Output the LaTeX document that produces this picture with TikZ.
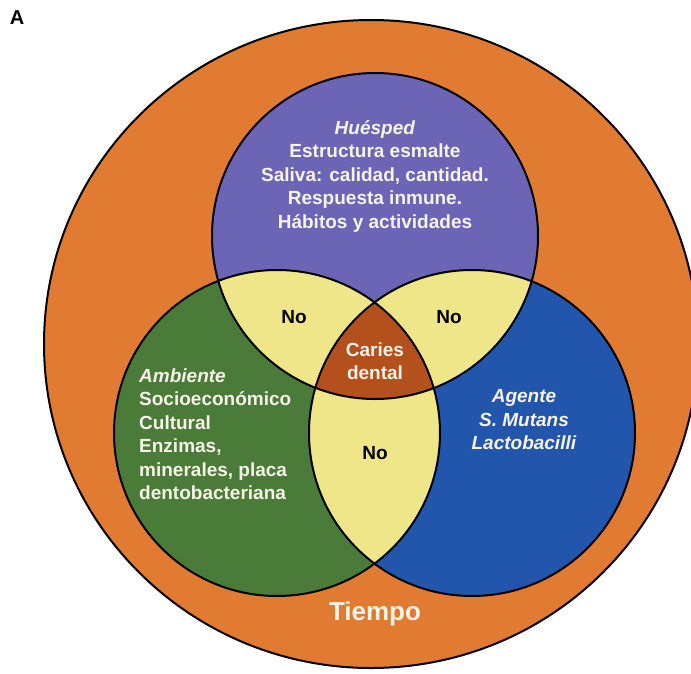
\documentclass[tikz,border=0pt]{standalone}
\usepackage{fontspec}
\setmainfont{Liberation Sans}
\definecolor{orangeC}{HTML}{E27B32}
\definecolor{purpleC}{HTML}{6C65B6}
\definecolor{greenC}{HTML}{4B7B38}
\definecolor{blueC}{HTML}{2256AC}
\definecolor{yellowC}{HTML}{EFE68A}
\definecolor{cariesC}{HTML}{B4501C}
\definecolor{txtC}{HTML}{F6F3E8}
\begin{document}
\begin{tikzpicture}[x=1pt,y=-1pt,
  border/.style={draw=black,line width=2pt},
  wtxt/.style={text=txtC,font=\fontsize{19}{23.5}\selectfont\bfseries,inner sep=0pt},
  btxt/.style={text=black,font=\fontsize{19}{23.5}\selectfont\bfseries,inner sep=0pt}]
\useasboundingbox (0,0) rectangle (691,673);
\fill[white] (0,0) rectangle (691,673);
% outer circle (Tiempo)
\path[fill=orangeC,border] (371,344) ellipse [x radius=327pt, y radius=324pt];
% three circles
\def\ctop{(375,236) circle [radius=163pt]}
\def\cleft{(277,433) circle [radius=163pt]}
\def\cright{(472,433) circle [radius=163pt]}
\fill[purpleC] \ctop;
\fill[greenC] \cleft;
\fill[blueC] \cright;
\begin{scope}\clip \ctop; \fill[yellowC] \cleft; \end{scope}
\begin{scope}\clip \ctop; \fill[yellowC] \cright; \end{scope}
\begin{scope}\clip \cleft; \fill[yellowC] \cright; \end{scope}
\begin{scope}\clip \ctop; \clip \cleft; \fill[cariesC] \cright; \end{scope}
\draw[border] \ctop;
\draw[border] \cleft;
\draw[border] \cright;
% texts
\node[text=black,font=\fontsize{20}{24}\selectfont\bfseries,inner sep=0pt] (lblA) at (17,18) {A};
\node[wtxt,align=center] (host) at (375,176) {\textit{Huésped}\\Estructura esmalte\\Saliva: calidad, cantidad.\\Respuesta inmune.\\Hábitos y actividades};
\node[wtxt,align=left,anchor=west] (env) at (139,434) {\textit{Ambiente}\\Socioeconómico\\Cultural\\Enzimas,\\minerales, placa\\dentobacteriana};
\node[wtxt,align=center] (agent) at (524,420) {\textit{Agente}\\\textit{S. Mutans}\\\textit{Lactobacilli}};
\node[wtxt,align=center] (caries) at (375,361) {Caries\\dental};
\node[btxt] (no1) at (294,317) {No};
\node[btxt] (no2) at (449,317) {No};
\node[btxt] (no3) at (375,453) {No};
\node[text=txtC,font=\fontsize{26}{30}\selectfont\bfseries,inner sep=0pt] (time) at (375,614) {Tiempo};
\end{tikzpicture}
\end{document}
